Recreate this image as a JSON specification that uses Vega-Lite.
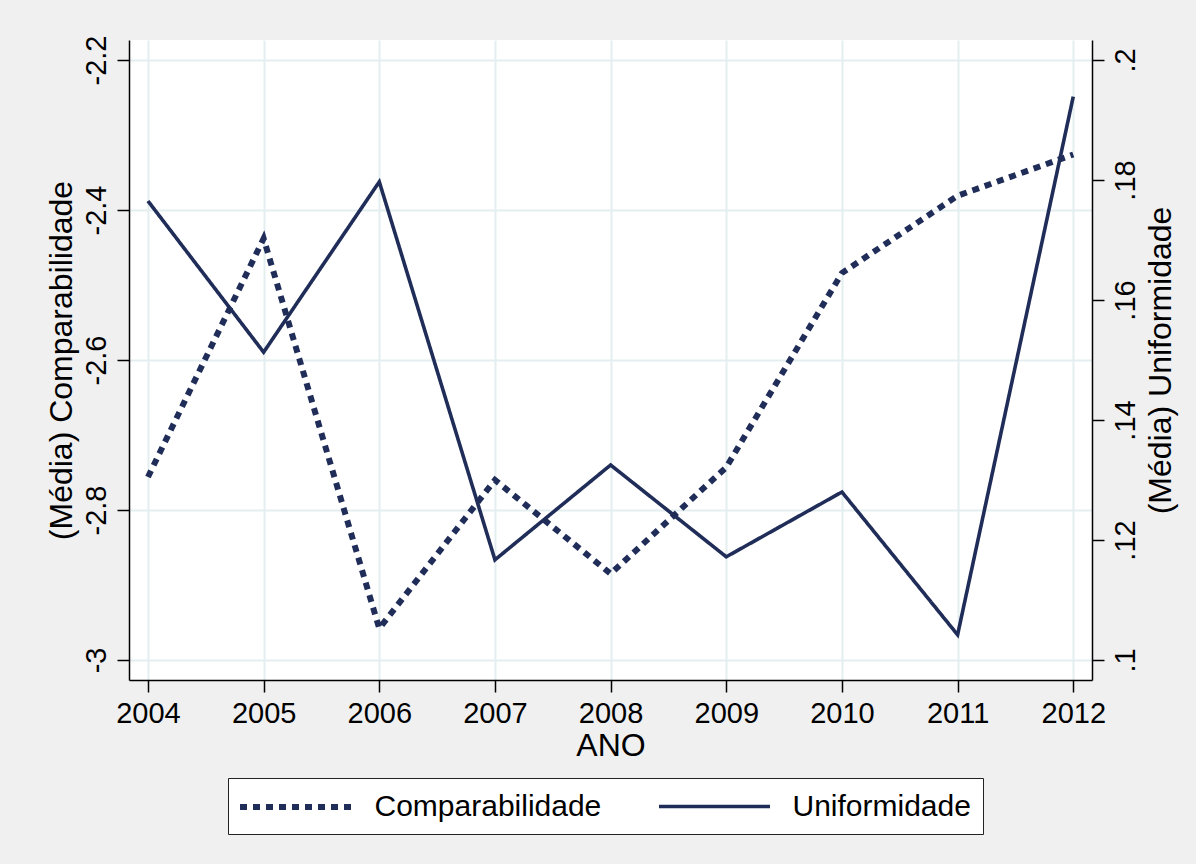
{
  "$schema": "https://vega.github.io/schema/vega-lite/v6.json",
  "width": 963,
  "height": 640,
  "autosize": {"type": "none"},
  "padding": {"left": 129, "top": 40, "right": 104, "bottom": 184},
  "background": "#f0f0f0",
  "config": {
    "font": "Liberation Sans",
    "view": {"fill": "white", "stroke": null},
    "axis": {
      "labelFont": "Liberation Sans",
      "titleFont": "Liberation Sans",
      "labelFontSize": 29,
      "titleFontSize": 32,
      "titleFontWeight": "normal",
      "titleColor": "black",
      "labelColor": "black",
      "domainColor": "black",
      "domainWidth": 1.5,
      "tickColor": "black",
      "tickWidth": 1.5,
      "tickSize": 12,
      "gridColor": "#e4edf0",
      "gridWidth": 2
    },
    "legend": {
      "orient": "none",
      "legendX": 99,
      "legendY": 738,
      "direction": "horizontal",
      "symbolType": "M-4,0H4",
      "symbolSize": 770,
      "symbolOffset": 38.5,
      "labelOffset": 62,
      "labelLimit": 500,
      "labelFont": "Liberation Sans",
      "labelFontSize": 30,
      "labelColor": "black",
      "fillColor": "white",
      "strokeColor": "#222222",
      "padding": 12,
      "columnPadding": 49,
      "symbolStrokeColor": "#1f2d58",
      "symbolFillColor": "transparent"
    }
  },
  "data": {
    "values": [
      {"ano": 2004, "serie": "Comparabilidade", "valor": -2.756},
      {"ano": 2005, "serie": "Comparabilidade", "valor": -2.438},
      {"ano": 2006, "serie": "Comparabilidade", "valor": -2.958},
      {"ano": 2007, "serie": "Comparabilidade", "valor": -2.76},
      {"ano": 2008, "serie": "Comparabilidade", "valor": -2.885},
      {"ano": 2009, "serie": "Comparabilidade", "valor": -2.743},
      {"ano": 2010, "serie": "Comparabilidade", "valor": -2.484},
      {"ano": 2011, "serie": "Comparabilidade", "valor": -2.381},
      {"ano": 2012, "serie": "Comparabilidade", "valor": -2.326},
      {"ano": 2004, "serie": "Uniformidade", "valor": 0.1765},
      {"ano": 2005, "serie": "Uniformidade", "valor": 0.1513},
      {"ano": 2006, "serie": "Uniformidade", "valor": 0.1797},
      {"ano": 2007, "serie": "Uniformidade", "valor": 0.1167},
      {"ano": 2008, "serie": "Uniformidade", "valor": 0.1325},
      {"ano": 2009, "serie": "Uniformidade", "valor": 0.1172},
      {"ano": 2010, "serie": "Uniformidade", "valor": 0.128},
      {"ano": 2011, "serie": "Uniformidade", "valor": 0.1042},
      {"ano": 2012, "serie": "Uniformidade", "valor": 0.1939}
    ]
  },
  "encoding": {
    "x": {
      "field": "ano",
      "type": "quantitative",
      "scale": {"domain": [2003.836, 2012.162], "nice": false, "zero": false},
      "axis": {
        "values": [2004, 2005, 2006, 2007, 2008, 2009, 2010, 2011, 2012],
        "format": "d",
        "title": "ANO",
        "labelPadding": 7,
        "titlePadding": 2,
        "grid": true
      }
    }
  },
  "layer": [
    {
      "transform": [{"filter": "datum.serie === 'Comparabilidade'"}],
      "mark": {"type": "line", "color": "#1f2d58", "strokeCap": "butt", "clip": true},
      "encoding": {
        "y": {
          "field": "valor",
          "type": "quantitative",
          "scale": {"domain": [-3.0267, -2.1733], "nice": false, "zero": false},
          "axis": {
            "orient": "left",
            "values": [-3, -2.8, -2.6, -2.4, -2.2],
            "labelExpr": "'' + datum.value",
            "labelAngle": 270,
            "labelAlign": "center",
            "labelBaseline": "bottom",
            "labelPadding": 6,
            "title": "(Média) Comparabilidade",
            "titleAngle": 270,
            "titleBaseline": "bottom",
            "titlePadding": 4,
            "grid": true
          }
        },
        "strokeDash": {
          "field": "serie",
          "type": "nominal",
          "scale": {"domain": ["Comparabilidade", "Uniformidade"], "range": [[7, 6], [1, 0]]},
          "legend": {"title": null}
        },
        "strokeWidth": {
          "field": "serie",
          "type": "nominal",
          "scale": {"domain": ["Comparabilidade", "Uniformidade"], "range": [6, 3.6]},
          "legend": {"title": null}
        }
      }
    },
    {
      "transform": [{"filter": "datum.serie === 'Uniformidade'"}],
      "mark": {"type": "line", "color": "#1f2d58", "clip": true},
      "encoding": {
        "y": {
          "field": "valor",
          "type": "quantitative",
          "scale": {"domain": [0.09667, 0.20333], "nice": false, "zero": false},
          "axis": {
            "orient": "right",
            "values": [0.1, 0.12, 0.14, 0.16, 0.18, 0.2],
            "labelExpr": "replace('' + datum.value, '0.', '.')",
            "labelAngle": 270,
            "labelAlign": "center",
            "labelBaseline": "top",
            "labelPadding": 7,
            "title": "(Média) Uniformidade",
            "titleAngle": 270,
            "titleBaseline": "top",
            "titlePadding": 5,
            "grid": false
          }
        },
        "strokeDash": {
          "field": "serie",
          "type": "nominal",
          "scale": {"domain": ["Comparabilidade", "Uniformidade"], "range": [[7, 6], [1, 0]]},
          "legend": {"title": null}
        },
        "strokeWidth": {
          "field": "serie",
          "type": "nominal",
          "scale": {"domain": ["Comparabilidade", "Uniformidade"], "range": [6, 3.6]},
          "legend": {"title": null}
        }
      }
    }
  ],
  "resolve": {"scale": {"y": "independent"}}
}
